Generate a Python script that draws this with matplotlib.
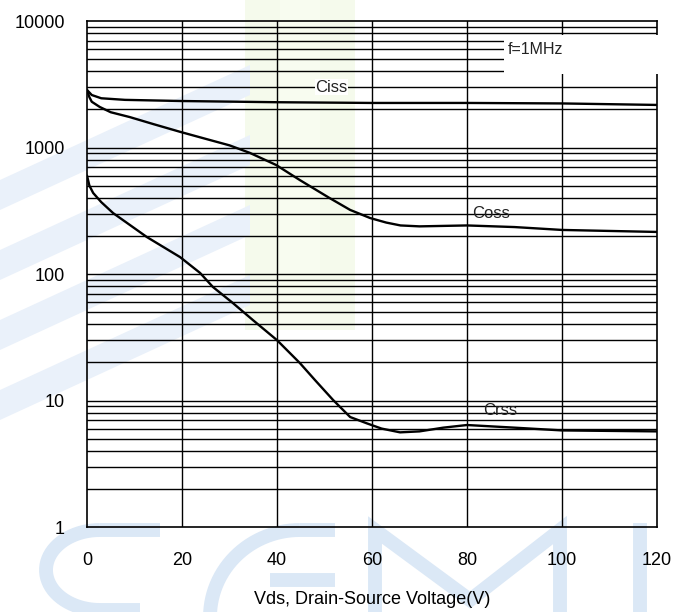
import matplotlib
matplotlib.use("Agg")
import matplotlib.pyplot as plt
from matplotlib.patches import Rectangle, Polygon
from matplotlib.ticker import FixedLocator, FixedFormatter, NullLocator
import numpy as np

plt.rcParams['font.family'] = ['Liberation Sans', 'DejaVu Sans']

# ---- data ----
ciss_v = [0, 1, 3, 8, 20, 40, 60, 80, 100, 120]
ciss_c = [2850, 2600, 2450, 2380, 2330, 2280, 2250, 2250, 2230, 2170]

coss_v = [0, 0.5, 1, 2.7, 5, 9, 14, 19.6, 25, 30, 34.3, 39.8, 44.8, 51, 55.4, 59.6, 63, 66, 70, 80, 90, 100, 120]
coss_c = [2850, 2500, 2300, 2090, 1900, 1740, 1530, 1330, 1170, 1040, 906, 728, 553, 400, 321, 277, 255, 242, 238, 242, 235, 223, 215]

crss_v = [0, 0.5, 1.3, 3, 5.5, 8, 12.6, 19.6, 23.8, 26.5, 30.7, 35, 40, 44.8, 48, 51.8, 55.4, 58.9, 62, 65.9, 70, 75, 80, 90, 100, 120]
crss_c = [600, 500, 437, 370, 303, 260, 196, 136, 102, 79, 59, 43, 30, 19.8, 14.5, 10.1, 7.4, 6.6, 6.0, 5.6, 5.7, 6.1, 6.4, 6.1, 5.8, 5.7]

x_ticks = [0, 20, 40, 60, 80, 100, 120]
y_ticks = [1, 10, 100, 1000, 10000]
y_ticklabels = ["1", "10", "100", "1000", "10000"]

W, H = 689, 612
fig = plt.figure(figsize=(W / 100, H / 100), dpi=100)

# ---- faint watermark (background decoration) ----
bg = fig.add_axes([0, 0, 1, 1], zorder=-5)
bg.set_xlim(0, W)
bg.set_ylim(H, 0)
bg.axis('off')
wm_blue = '#dbe8f6'
wm_stripe = '#eaf1fa'
wm_green = '#f5faec'
# pale green vertical band
bg.add_patch(Rectangle((245, 0), 110, 330, color=wm_green, lw=0))
bg.add_patch(Rectangle((280, 0), 40, 330, color='#f8fcf0', lw=0))
# diagonal blue stripes on the left
for off in [0, 70, 140, 210]:
    bg.add_patch(Polygon([(0, 180 + off), (0, 210 + off), (250, 95 + off), (250, 65 + off)],
                         closed=True, color=wm_stripe, lw=0))
# big letters "SEMI" (rough strokes)
t = np.linspace(np.pi / 2, 3 * np.pi / 2, 40)
bg.plot(100 + 60 * np.cos(t) * 0.9, 570 + 40 * np.sin(t) * -1, color=wm_blue, lw=10, solid_capstyle='butt')
bg.plot([100, 160], [530, 530], color=wm_blue, lw=10, solid_capstyle='butt')
bg.plot([100, 140], [610, 610], color=wm_blue, lw=10, solid_capstyle='butt')
t2 = np.linspace(np.pi / 2, np.pi, 30)
bg.plot(300 + 90 * np.cos(t2), 617 - 87 * np.sin(t2), color=wm_blue, lw=10, solid_capstyle='butt')
bg.plot([300, 335], [530, 530], color=wm_blue, lw=10, solid_capstyle='butt')
bg.plot([270, 335], [580, 580], color=wm_blue, lw=10, solid_capstyle='butt')
bg.plot([375, 375, 470, 560, 560], [612, 530, 600, 530, 612], color=wm_blue, lw=10, solid_joinstyle='miter')
bg.plot([640, 640], [530, 612], color=wm_blue, lw=10)

# ---- main axes ----
ax = fig.add_axes([87 / W, 1 - 527 / H, (657 - 87) / W, (527 - 21) / H])
ax.patch.set_alpha(0)
ax.set_yscale('log')
ax.set_xlim(0, 120)
ax.set_ylim(1, 10000)

# grid
for xv in x_ticks[1:-1]:
    ax.axvline(xv, color='black', lw=1.0, zorder=1)
for dec in [1, 10, 100, 1000]:
    for m in range(1, 10):
        yv = dec * m
        if yv == 1:
            continue
        ax.axhline(yv, color='black', lw=1.0, zorder=1)

# white box behind "f=1MHz"
ax.add_patch(Rectangle((87.8, 3810), 35, 7745 - 3810, facecolor='white', edgecolor='none',
                       zorder=3, clip_on=False))
ax.text(88.5, 6000, "f=1MHz", fontsize=11.5, va='center', ha='left', color='#222222', zorder=4)

# curves
for v, c in [(ciss_v, ciss_c), (coss_v, coss_c), (crss_v, crss_c)]:
    ax.plot(v, c, color='black', lw=1.7, zorder=5, solid_capstyle='round', solid_joinstyle='round')

ax.text(51.5, 3000, "Ciss", fontsize=12, ha='center', va='center', color='#222222', zorder=4,
        bbox=dict(facecolor='white', edgecolor='none', pad=0.5))
ax.text(85, 300, "Coss", fontsize=12, ha='center', va='center', color='#222222', zorder=4)
ax.text(87, 8.4, "Crss", fontsize=12, ha='center', va='center', color='#222222', zorder=4)

# ticks
ax.xaxis.set_major_locator(FixedLocator(x_ticks))
ax.xaxis.set_minor_locator(NullLocator())
ax.yaxis.set_major_locator(FixedLocator(y_ticks))
ax.yaxis.set_major_formatter(FixedFormatter(y_ticklabels))
ax.yaxis.set_minor_locator(NullLocator())
ax.tick_params(axis='x', length=0, pad=18, labelsize=13)
ax.tick_params(axis='y', length=0, pad=16, labelsize=13)
ax.set_xlabel("Vds, Drain-Source Voltage(V)", fontsize=13, labelpad=16)

for s in ax.spines.values():
    s.set_linewidth(1.2)
    s.set_zorder(2)

fig.savefig("out.png", dpi=100)
